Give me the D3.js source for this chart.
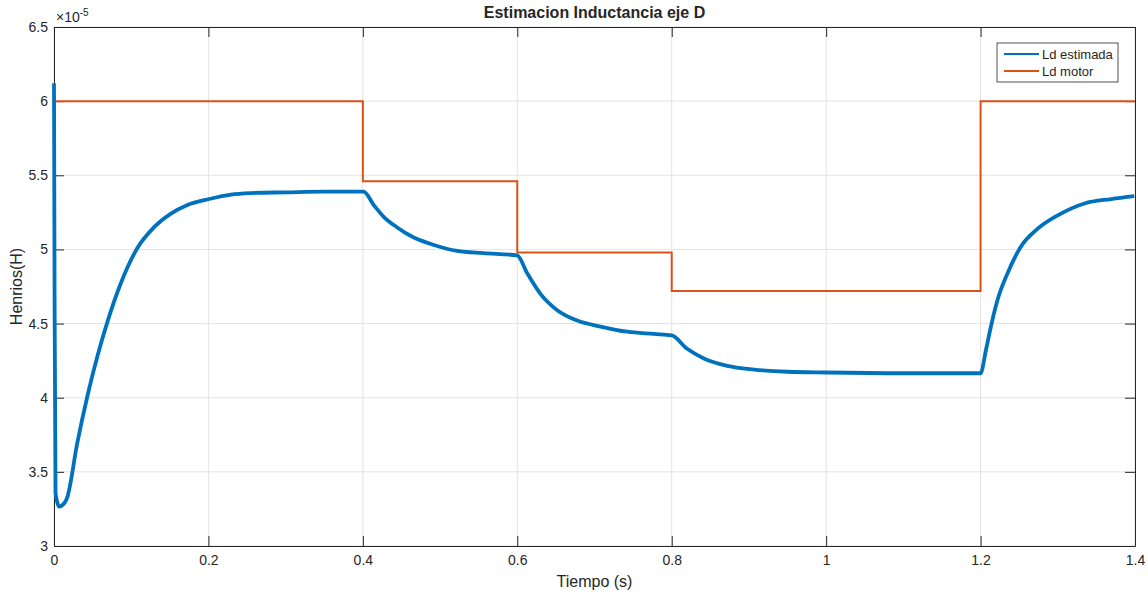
<!DOCTYPE html>
<html>
<head>
<meta charset="utf-8">
<script src="https://cdn.jsdelivr.net/npm/d3@7"></script>
<style>
  body { margin: 0; background: #fff; }
  text { font-family: "Liberation Sans", Arial, sans-serif; fill: #262626; }
</style>
</head>
<body>
<svg id="chart" width="1148" height="594"></svg>
<script>
// estimated Ld (x1e-5 H)
const tEst = [0, 0.0008, 0.002, 0.0045, 0.0065, 0.0095, 0.0173, 0.030, 0.0432, 0.0562, 0.0691, 0.0864, 0.108, 0.1296, 0.151, 0.1728, 0.2009, 0.229, 0.255, 0.3, 0.35, 0.401, 0.414, 0.427, 0.444, 0.466, 0.492, 0.522, 0.5565, 0.5998, 0.6128, 0.630, 0.6517, 0.6776, 0.7078, 0.7424, 0.777, 0.8, 0.820, 0.8417, 0.872, 0.9066, 0.95, 1.0, 1.1, 1.2, 1.2069, 1.2134, 1.222, 1.235, 1.2523, 1.274, 1.300, 1.3345, 1.369, 1.399];
const ldEst = [6.12, 4.6, 3.36, 3.29, 3.265, 3.27, 3.33, 3.69, 4.01, 4.28, 4.51, 4.77, 5.01, 5.15, 5.24, 5.30, 5.34, 5.37, 5.38, 5.385, 5.39, 5.39, 5.30, 5.22, 5.15, 5.08, 5.03, 4.99, 4.975, 4.96, 4.84, 4.70, 4.59, 4.52, 4.48, 4.445, 4.43, 4.42, 4.33, 4.265, 4.215, 4.19, 4.175, 4.17, 4.165, 4.165, 4.32, 4.48, 4.66, 4.84, 5.02, 5.14, 5.23, 5.31, 5.34, 5.36];

// motor Ld steps (x1e-5 H)
const tMotor = [0, 0.4, 0.4, 0.6, 0.6, 0.8, 0.8, 1.2, 1.2, 1.4];
const ldMotor = [6.0, 6.0, 5.46, 5.46, 4.98, 4.98, 4.72, 4.72, 6.0, 6.0];

const xTicks = [0, 0.2, 0.4, 0.6, 0.8, 1, 1.2, 1.4];
const yTicks = [3, 3.5, 4, 4.5, 5, 5.5, 6, 6.5];
const legendNames = ['Ld estimada', 'Ld motor'];

const svg = d3.select('svg#chart');
const margin = { top: 27, right: 13, bottom: 48, left: 54 };
const width = +svg.attr('width') - margin.left - margin.right;
const height = +svg.attr('height') - margin.top - margin.bottom;
const g = svg.append('g').attr('transform', `translate(${margin.left},${margin.top})`);

const x = d3.scaleLinear().domain([0, 1.4]).range([0, width]);
const y = d3.scaleLinear().domain([3, 6.5]).range([height, 0]);

// grid
g.append('g').selectAll('line').data(xTicks).join('line')
  .attr('x1', d => x(d)).attr('x2', d => x(d)).attr('y1', 0).attr('y2', height)
  .attr('stroke', '#e3e3e3');
g.append('g').selectAll('line').data(yTicks).join('line')
  .attr('y1', d => y(d)).attr('y2', d => y(d)).attr('x1', 0).attr('x2', width)
  .attr('stroke', '#e3e3e3');

const fmt = d => String(d);
const tickLen = 10;
const axB = g.append('g').attr('transform', `translate(0,${height})`)
  .call(d3.axisBottom(x).tickValues(xTicks).tickFormat(fmt).tickSizeInner(-tickLen).tickSizeOuter(0).tickPadding(7));
const axT = g.append('g')
  .call(d3.axisTop(x).tickValues(xTicks).tickFormat('').tickSizeInner(-tickLen).tickSizeOuter(0));
const axL = g.append('g')
  .call(d3.axisLeft(y).tickValues(yTicks).tickFormat(fmt).tickSizeInner(-tickLen).tickSizeOuter(0).tickPadding(6));
const axR = g.append('g').attr('transform', `translate(${width},0)`)
  .call(d3.axisRight(y).tickValues(yTicks).tickFormat('').tickSizeInner(-tickLen).tickSizeOuter(0));
[axB, axT, axL, axR].forEach(a => {
  a.select('.domain').attr('stroke', '#262626');
  a.selectAll('.tick line').attr('stroke', '#262626');
  a.selectAll('.tick text').style('font-size', '14px').attr('fill', '#262626');
});
axB.selectAll('.tick text').attr('dy', '0.85em');

// lines
g.append('path')
  .datum(tMotor.map((t, i) => [t, ldMotor[i]]))
  .attr('d', d3.line().x(d => x(d[0])).y(d => y(d[1])))
  .attr('fill', 'none').attr('stroke', '#D95319').attr('stroke-width', 2);
g.append('path')
  .datum(tEst.map((t, i) => [t, ldEst[i]]))
  .attr('d', d3.line().x(d => x(d[0])).y(d => y(d[1])).curve(d3.curveMonotoneX))
  .attr('fill', 'none').attr('stroke', '#0072BD').attr('stroke-width', 3.8)
  .attr('stroke-linejoin', 'round');

// exponent
const ex = svg.append('text').attr('x', 56).attr('y', 22).style('font-size', '14px');
ex.append('tspan').text('\u00d710');
ex.append('tspan').attr('dy', -6).style('font-size', '10px').text('-5');

// title & labels
svg.append('text').attr('x', margin.left + width / 2).attr('y', 18)
  .attr('text-anchor', 'middle').style('font-size', '16px').style('font-weight', 'bold')
  .attr('fill', '#000').text('Estimacion Inductancia eje D');
svg.append('text').attr('x', margin.left + width / 2).attr('y', 587)
  .attr('text-anchor', 'middle').style('font-size', '16px').text('Tiempo (s)');
svg.append('text').attr('transform', `translate(22,${margin.top + height / 2}) rotate(-90)`)
  .attr('text-anchor', 'middle').style('font-size', '16px').text('Henrios(H)');

// legend
const lg = svg.append('g').attr('transform', 'translate(997,43)');
lg.append('rect').attr('width', 121).attr('height', 39)
  .attr('fill', '#fff').attr('stroke', '#262626').attr('stroke-width', 0.8);
const colors = ['#0072BD', '#D95319'];
legendNames.forEach((name, i) => {
  const yy = 11 + i * 17;
  lg.append('line').attr('x1', 7).attr('x2', 42).attr('y1', yy).attr('y2', yy)
    .attr('stroke', colors[i]).attr('stroke-width', 2);
  lg.append('text').attr('x', 45).attr('y', yy + 5).style('font-size', '13px').text(name);
});
</script>
</body>
</html>
